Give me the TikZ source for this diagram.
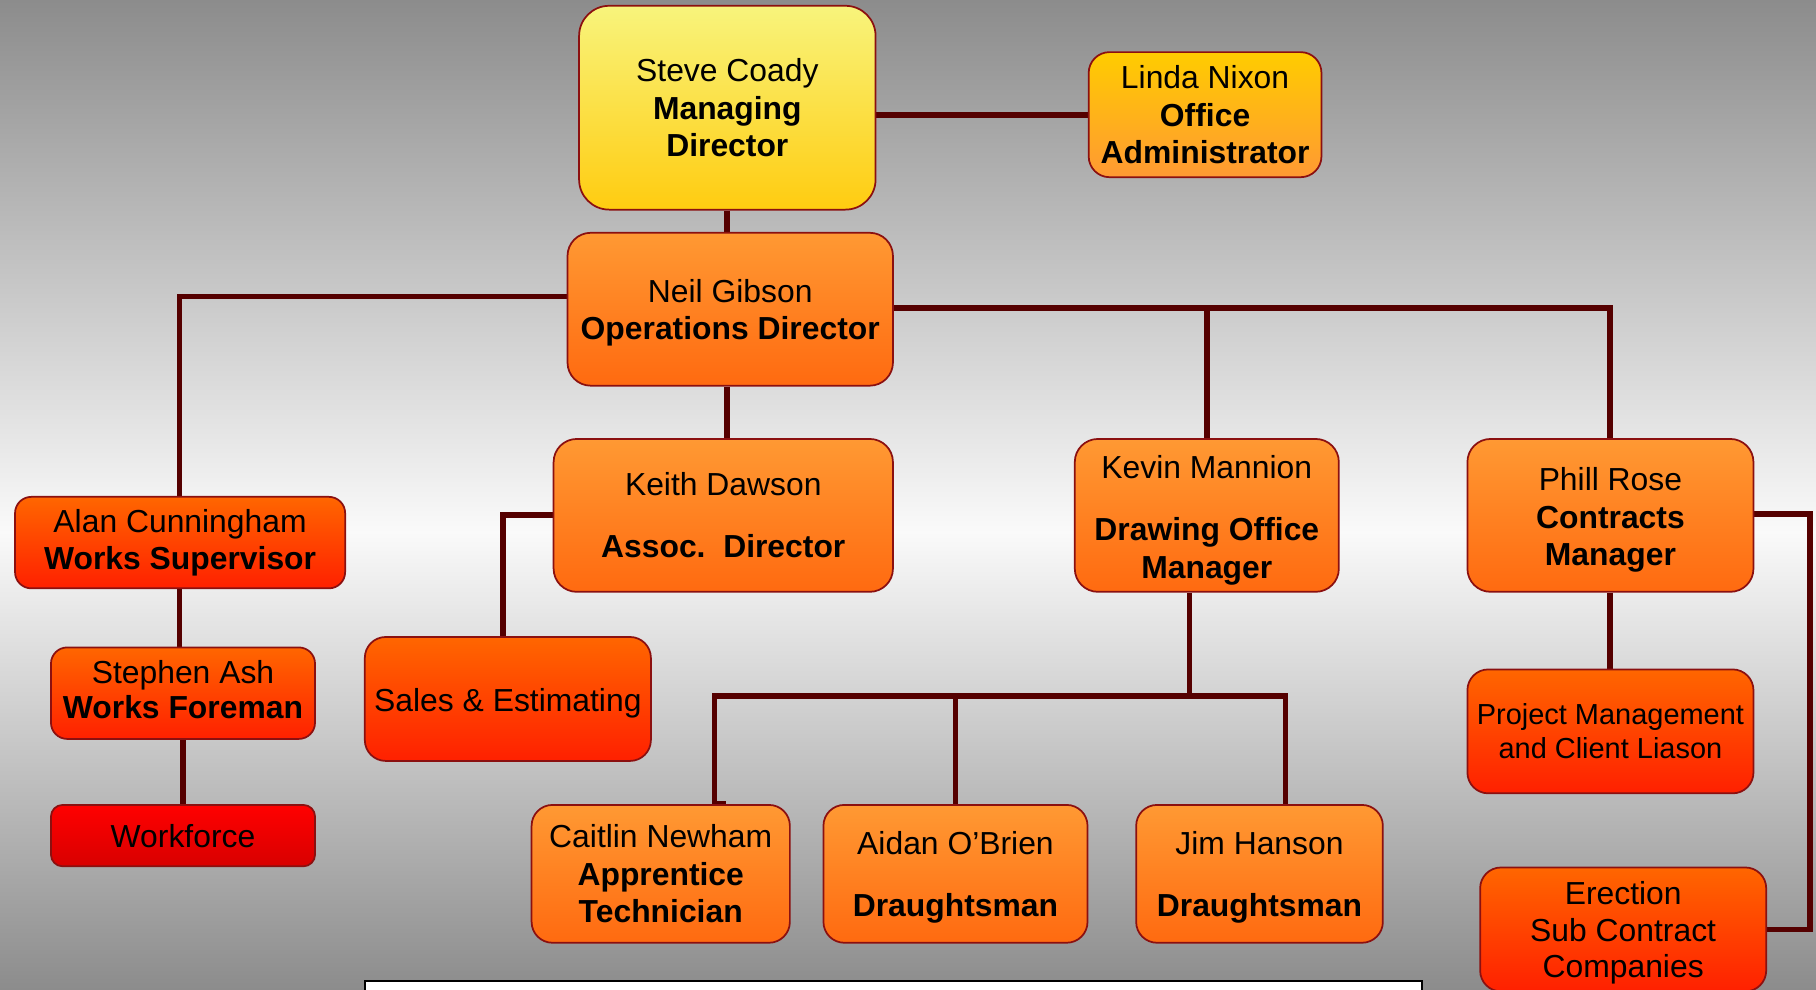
\documentclass[tikz,border=0pt]{standalone}
\usepackage{fontspec}
\setmainfont{Liberation Sans}
\usetikzlibrary{shadings,backgrounds,calc}
\definecolor{bggray}{HTML}{8C8C8C}
\definecolor{bgwhite}{HTML}{FAFAFA}
\definecolor{boxline}{HTML}{8B1010}
\definecolor{connline}{HTML}{550000}
\definecolor{yelA}{HTML}{F8F47C}
\definecolor{yelB}{HTML}{FFCC10}
\definecolor{goldA}{HTML}{FFCC00}
\definecolor{goldB}{HTML}{FF9933}
\definecolor{orA}{HTML}{FF9933}
\definecolor{orB}{HTML}{FF6A10}
\definecolor{redA}{HTML}{FF6600}
\definecolor{redB}{HTML}{FF2000}
\definecolor{crA}{HTML}{FF0000}
\definecolor{crB}{HTML}{D80000}
% invisible struts to fine-tune vertical text placement
\newcommand{\toppad}[1]{\rule{0pt}{#1pt}}
\newcommand{\botpad}[1]{\rule[-#1pt]{0pt}{#1pt}}
\tikzset{
  orgbox/.style={draw=boxline, line width=1.5pt, rounded corners=18pt,
    align=center, inner sep=0pt, text=black,
    font=\fontsize{27.5}{32.5}\selectfont},
  yellowbox/.style={orgbox, top color=yelA, bottom color=yelB},
  goldbox/.style={orgbox, top color=goldA, bottom color=goldB},
  orangebox/.style={orgbox, top color=orA, bottom color=orB},
  redbox/.style={orgbox, top color=redA, bottom color=redB},
  crimsonbox/.style={orgbox, top color=crA, bottom color=crB, rounded corners=10pt},
  conn/.style={draw=connline, line width=5pt}
}
\begin{document}
\begin{tikzpicture}[x=1pt,y=-1pt]
\useasboundingbox (0,0) rectangle (1568,854);
\begin{scope}[on background layer]
  \shade[top color=bggray, bottom color=bgwhite] (0,0) rectangle (1568,460);
  \shade[top color=bgwhite, bottom color=bggray] (0,459) rectangle (1568,854);
\end{scope}

% nodes
\node[yellowbox, rounded corners=26pt, minimum width=256pt, minimum height=176pt] (steve) at (628,93)
  {Steve Coady\\\textbf{Managing}\\\textbf{Director}};
\node[goldbox, minimum width=201pt, minimum height=108pt] (linda) at (1040.5,99)
  {Linda Nixon\\\textbf{Office}\\\textbf{Administrator}};
\node[orangebox, rounded corners=20pt, minimum width=281pt, minimum height=132pt] (neil) at (630.5,267)
  {\toppad{26}Neil Gibson\\\textbf{Operations Director}};
\node[orangebox, rounded corners=20pt, minimum width=293pt, minimum height=132pt] (keith) at (624.5,445)
  {Keith Dawson\\[21pt]\textbf{Assoc.\ \ Director}};
\node[orangebox, rounded corners=20pt, minimum width=228pt, minimum height=132pt] (kevin) at (1042,445)
  {\toppad{28}Kevin Mannion\\[21pt]\textbf{Drawing Office}\\\textbf{Manager}};
\node[orangebox, rounded corners=20pt, minimum width=247pt, minimum height=132pt] (phill) at (1390.5,445)
  {\toppad{28}Phill Rose\\\textbf{Contracts}\\\textbf{Manager}};
\node[redbox, rounded corners=14pt, minimum width=285pt, minimum height=79pt] (alan) at (155.5,468.5)
  {Alan Cunningham\\\textbf{Works Supervisor}};
\node[redbox, rounded corners=14pt, minimum width=228pt, minimum height=79pt, font=\fontsize{27.5}{30}\selectfont] (stephen) at (158,598.5)
  {Stephen Ash\\\textbf{Works Foreman}\botpad{6}};
\node[crimsonbox, minimum width=228pt, minimum height=53pt] (workforce) at (158,721.5)
  {Workforce};
\node[redbox, minimum width=247pt, minimum height=107pt] (sales) at (438.5,603.5)
  {\toppad{28}Sales \& Estimating};
\node[orangebox, minimum width=223pt, minimum height=119pt] (caitlin) at (570.5,754.5)
  {Caitlin Newham\\\textbf{Apprentice}\\\textbf{Technician}};
\node[orangebox, minimum width=228pt, minimum height=119pt] (aidan) at (825,754.5)
  {\toppad{26}Aidan O’Brien\\[21pt]\textbf{Draughtsman}};
\node[orangebox, minimum width=213pt, minimum height=119pt] (jim) at (1087.5,754.5)
  {\toppad{26}Jim Hanson\\[21pt]\textbf{Draughtsman}};
\node[redbox, minimum width=247pt, minimum height=107pt, font=\fontsize{25}{29}\selectfont] (project) at (1390.5,631.5)
  {Project Management\\and Client Liason};
\node[redbox, minimum width=247pt, minimum height=107pt, font=\fontsize{27.5}{31.5}\selectfont] (erection) at (1401.5,802.5)
  {\toppad{26}Erection\\Sub Contract\\Companies};
\node[draw=black, fill=white, line width=1.5pt, inner sep=0pt, minimum width=913pt, minimum height=40pt] (footer) at (771.5,867) {};

% connectors
\coordinate (ja) at (155,256);
\coordinate (jb) at (1390,266);
\coordinate (jc) at (434,445);
\coordinate (jd) at (1027,601);
\coordinate (je) at (617,601);
\coordinate (jf) at (1110,601);
\coordinate (jg) at (1563,444);
\begin{scope}[on background layer]
  \draw[conn] (steve.east |- linda.west) -- (linda.west);
  \draw[conn] (steve.south) -- (steve.south |- neil.north);
  \draw[conn] (neil.west |- ja) -- (ja) -- (ja |- alan.north);
  \draw[conn] (neil.east |- jb) -- (jb) -- (jb |- phill.north);
  \draw[conn] (kevin.north |- jb) -- (kevin.north);
  \draw[conn] (steve.south |- neil.south) -- (steve.south |- keith.north);
  \draw[conn] (keith.west |- jc) -- (jc) -- (jc |- sales.north);
  \draw[conn] (ja |- alan.south) -- (ja |- stephen.north);
  \draw[conn] (stephen.south) -- (workforce.north);
  \draw[conn] (jd |- kevin.south) -- (jd);
  \draw[conn] (je |- caitlin.north) -- (je) -- (jf) -- (jf |- jim.north);
  \draw[conn] (je |- caitlin.north) -- ++(10,0);
  \draw[conn] (aidan.north |- je) -- (aidan.north);
  \draw[conn] (jb |- phill.south) -- (jb |- project.north);
  \draw[conn] (phill.east |- jg) -- (jg) -- (jg |- erection.east) -- (erection.east);
\end{scope}
\end{tikzpicture}
\end{document}
